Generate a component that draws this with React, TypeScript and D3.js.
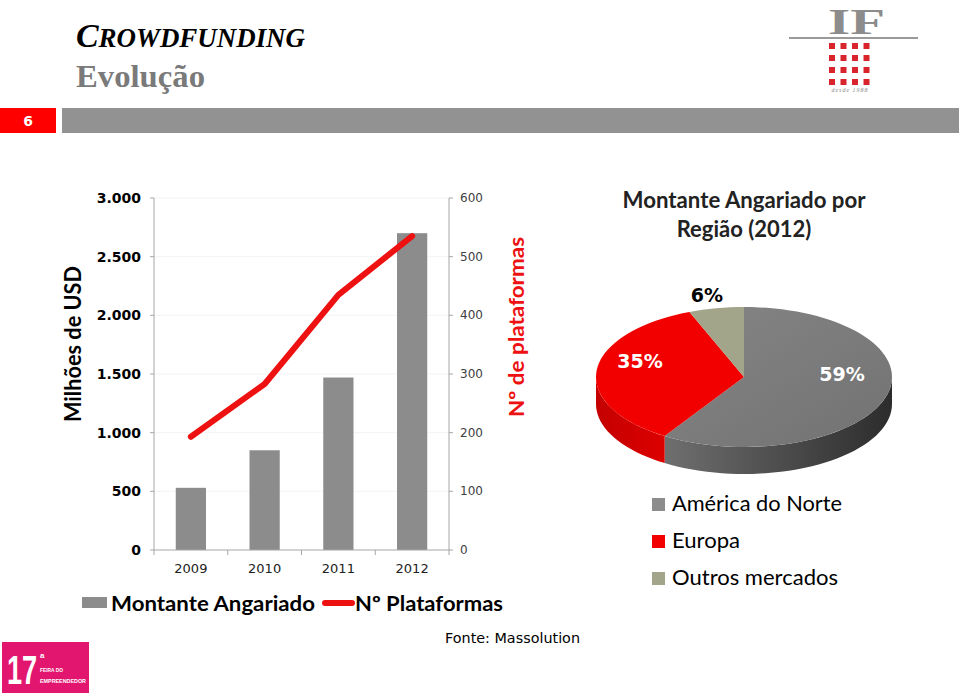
import React from "react";
import * as d3 from "d3";

const years = ["2009", "2010", "2011", "2012"];
const montante = [530, 850, 1470, 2700];
const plataformas = [193, 283, 435, 535];
const leftTicks = [0, 500, 1000, 1500, 2000, 2500, 3000];
const rightTicks = [0, 100, 200, 300, 400, 500, 600];

const regions = ["América do Norte", "Europa", "Outros mercados"];
const regionShare = [59, 35, 6];
const regionColors = ["#7d7d7d", "#f20000", "#a3a58b"];
const legendColors = ["#8c8c8c", "#f20000", "#a3a58b"];
const legendWidths = [170, 68, 166];

const fmt = (v: number) => (v >= 1000 ? d3.format(",")(v).replace(/,/g, ".") : String(v));

export default function App() {
  const W = 959, H = 694;
  // Combo chart
  const plotL = 154, plotR = 449, plotT = 198, plotB = 550;
  const x = d3.scaleBand<string>().domain(years).range([plotL, plotR]);
  const yL = d3.scaleLinear().domain([0, 3000]).range([plotB, plotT]);
  const yR = d3.scaleLinear().domain([0, 600]).range([plotB, plotT]);
  const barW = x.bandwidth() * 0.41;
  const line = d3
    .line<number>()
    .x((_, i) => (x(years[i]) as number) + x.bandwidth() / 2)
    .y((d) => yR(d));

  // Pie 3D
  const cx = 744, cy = 377, rx = 148, ry = 70, depth = 27;
  const pt = (a: number): [number, number] => [cx + rx * Math.sin(a), cy - ry * Math.cos(a)];
  const arcs = d3.pie<number>().sort(null).value((d) => d)(regionShare);
  const sample = (a0: number, a1: number) => {
    const n = Math.max(2, Math.ceil(((a1 - a0) / (Math.PI * 2)) * 120));
    return d3.range(n + 1).map((i) => pt(a0 + ((a1 - a0) * i) / n));
  };
  const pathLine = d3.line();
  const topPath = (a0: number, a1: number) =>
    pathLine([[cx, cy], ...sample(a0, a1)]) + "Z";
  const sidePath = (a0: number, a1: number) => {
    const s = Math.max(a0, Math.PI / 2), e = Math.min(a1, (3 * Math.PI) / 2);
    if (e <= s) return null;
    const top = sample(s, e);
    const bottom = top.map(([px, py]) => [px, py + depth] as [number, number]).reverse();
    return pathLine([...top, ...bottom]) + "Z";
  };
  const sideFills = ["url(#sideGray)", "url(#sideRed)", "#7f8170"];

  const calibri = "Lato, 'Open Sans', sans-serif";
  const gothic = "'DejaVu Sans', sans-serif";

  return (
    <svg width={W} height={H} style={{ position: "absolute", left: 0, top: 0, background: "#fff" }}>
      <defs>
        <linearGradient id="sideGray" x1="0" x2="1" y1="0" y2="0">
          <stop offset="0" stopColor="#6f6f6f" />
          <stop offset="1" stopColor="#2c2c2c" />
        </linearGradient>
        <linearGradient id="sideRed" x1="0" x2="1" y1="0" y2="0">
          <stop offset="0" stopColor="#c40000" />
          <stop offset="1" stopColor="#dc0000" />
        </linearGradient>
        <linearGradient id="topGray" x1="0" x2="1" y1="0" y2="1">
          <stop offset="0" stopColor="#858585" />
          <stop offset="1" stopColor="#727272" />
        </linearGradient>
      </defs>

      {/* Header */}
      <text x={76} y={47} fontFamily="'Liberation Serif', serif" fontWeight="bold" fontStyle="italic" fill="#000"
        textLength={229} lengthAdjust="spacingAndGlyphs">
        <tspan fontSize={34}>C</tspan>
        <tspan fontSize={27}>ROWDFUNDING</tspan>
      </text>
      <text x={76} y={87} fontFamily="'Liberation Serif', serif" fontWeight="bold" fontSize={31} fill="#7a7a7a"
        textLength={129} lengthAdjust="spacingAndGlyphs">Evolução</text>

      {/* IF logo */}
      <text x={828} y={34} fontFamily="'Liberation Serif', serif" fontWeight="bold" fontSize={36} fill="#8c8c8c"
        textLength={57} lengthAdjust="spacingAndGlyphs">IF</text>
      <rect x={789} y={37} width={129} height={2} fill="#9a9a9a" />
      {d3.range(4).map((r) =>
        d3.range(4).map((c) => (
          <rect key={`${r}-${c}`} x={829 + c * 11.5} y={43 + r * 12} width={6} height={6} fill="#d9232d" />
        ))
      )}
      <text x={850} y={92} textAnchor="middle" fontFamily="'Liberation Serif', serif" fontStyle="italic" fontSize={6}
        fill="#888" letterSpacing={1}>desde 1988</text>

      {/* Slide number bar */}
      <rect x={0} y={108} width={56} height={25} fill="#ff0000" />
      <text x={28} y={126} textAnchor="middle" fontFamily={gothic} fontWeight="bold" fontSize={14} fill="#fff">6</text>
      <rect x={62} y={108} width={897} height={25} fill="#929292" />

      {/* Gridlines */}
      {leftTicks.slice(1).map((t) => (
        <line key={t} x1={plotL} x2={plotR} y1={yL(t)} y2={yL(t)} stroke="#f3f3f3" />
      ))}

      {/* Bars */}
      {montante.map((v, i) => (
        <rect key={years[i]} x={(x(years[i]) as number) + (x.bandwidth() - barW) / 2} y={yL(v)} width={barW}
          height={plotB - yL(v)} fill="#8c8c8c" />
      ))}

      {/* Axes */}
      <line x1={plotL} x2={plotL} y1={plotT} y2={plotB} stroke="#a6a6a6" />
      <line x1={plotR} x2={plotR} y1={plotT} y2={plotB} stroke="#a6a6a6" />
      <line x1={plotL} x2={plotR} y1={plotB} y2={plotB} stroke="#a6a6a6" />
      {leftTicks.map((t) => (
        <g key={t}>
          <line x1={plotL - 4} x2={plotL} y1={yL(t)} y2={yL(t)} stroke="#a6a6a6" />
          <text x={141} y={yL(t) + 5} textAnchor="end" fontFamily={gothic} fontWeight="bold" fontSize={14} fill="#000">
            {fmt(t)}
          </text>
        </g>
      ))}
      {rightTicks.map((t) => (
        <g key={t}>
          <line x1={plotR} x2={plotR + 4} y1={yR(t)} y2={yR(t)} stroke="#a6a6a6" />
          <text x={460} y={yR(t) + 4} fontFamily={gothic} fontSize={12} fill="#404040">{t}</text>
        </g>
      ))}
      {[...years.map((yv) => x(yv) as number), plotR].map((bx, i) => (
        <line key={i} x1={bx} x2={bx} y1={plotB} y2={plotB + 5} stroke="#a6a6a6" />
      ))}
      {years.map((yv) => (
        <text key={yv} x={(x(yv) as number) + x.bandwidth() / 2} y={573} textAnchor="middle" fontFamily={gothic}
          fontSize={13} fill="#222">{yv}</text>
      ))}

      {/* Line */}
      <path d={line(plataformas) as string} fill="none" stroke="#ee1111" strokeWidth={6} strokeLinecap="round"
        strokeLinejoin="round" />

      {/* Axis titles */}
      <text transform="translate(81,344) rotate(-90)" textAnchor="middle" fontFamily={calibri} fontWeight="bold"
        fontSize={22} fill="#000" textLength={156} lengthAdjust="spacingAndGlyphs">Milhões de USD</text>
      <text transform="translate(524,327) rotate(-90)" textAnchor="middle" fontFamily={calibri} fontWeight="bold"
        fontSize={21} fill="#ee1111" textLength={180} lengthAdjust="spacingAndGlyphs">Nº de plataformas</text>

      {/* Legend combo */}
      <rect x={82} y={597} width={25} height={11} fill="#8c8c8c" />
      <text x={111} y={611} fontFamily={calibri} fontWeight="bold" fontSize={20} fill="#000"
        textLength={204} lengthAdjust="spacingAndGlyphs">Montante Angariado</text>
      <line x1={325} x2={352} y1={603} y2={603} stroke="#ee1111" strokeWidth={6} strokeLinecap="round" />
      <text x={355} y={611} fontFamily={calibri} fontWeight="bold" fontSize={20} fill="#000"
        textLength={148} lengthAdjust="spacingAndGlyphs">Nº Plataformas</text>

      {/* Pie title */}
      <text x={744} y={208} textAnchor="middle" fontFamily={calibri} fontWeight="bold" fontSize={22} fill="#222"
        textLength={243} lengthAdjust="spacingAndGlyphs">Montante Angariado por</text>
      <text x={744} y={237} textAnchor="middle" fontFamily={calibri} fontWeight="bold" fontSize={22} fill="#222">
        Região (2012)
      </text>

      {/* Pie sides */}
      {arcs.map((a, i) => {
        const p = sidePath(a.startAngle, a.endAngle);
        return p ? <path key={`s${i}`} d={p} fill={sideFills[i]} /> : null;
      })}
      {/* Pie tops */}
      {arcs.map((a, i) => (
        <path key={`t${i}`} d={topPath(a.startAngle, a.endAngle)} fill={i === 0 ? "url(#topGray)" : regionColors[i]} />
      ))}

      {/* Pie labels */}
      <text x={842} y={381} textAnchor="middle" fontFamily={gothic} fontWeight="bold" fontSize={19} fill="#fff">
        {regionShare[0]}%
      </text>
      <text x={640} y={368} textAnchor="middle" fontFamily={gothic} fontWeight="bold" fontSize={19} fill="#fff">
        {regionShare[1]}%
      </text>
      <text x={707} y={302} textAnchor="middle" fontFamily={gothic} fontWeight="bold" fontSize={19} fill="#000">
        {regionShare[2]}%
      </text>

      {/* Pie legend */}
      {regions.map((r, i) => (
        <g key={r}>
          <rect x={652} y={498 + i * 37} width={13} height={13} fill={legendColors[i]} />
          <text x={672} y={511 + i * 37} fontFamily={calibri} fontSize={21} fill="#000"
            textLength={legendWidths[i]} lengthAdjust="spacingAndGlyphs">{r}</text>
        </g>
      ))}

      {/* Source */}
      <text x={445} y={643} fontFamily={gothic} fontSize={14} fill="#000" textLength={135}
        lengthAdjust="spacingAndGlyphs">Fonte: Massolution</text>

      {/* Bottom logo */}
      <rect x={2} y={642} width={87} height={51} fill="#e2156f" />
      <text transform="translate(7,684) scale(0.68,1)" fontFamily="'Liberation Sans', sans-serif" fontWeight="bold"
        fontSize={40} fill="#fff">17</text>
      <text x={40} y={658} fontFamily="'Liberation Sans', sans-serif" fontWeight="bold" fontSize={8} fill="#fff">a</text>
      <text x={40} y={672} fontFamily="'Liberation Sans', sans-serif" fontWeight="bold" fontSize={6} fill="#fff"
        textLength={23} lengthAdjust="spacingAndGlyphs">FEIRA DO</text>
      <text x={40} y={683} fontFamily="'Liberation Sans', sans-serif" fontWeight="bold" fontSize={6} fill="#fff"
        textLength={46} lengthAdjust="spacingAndGlyphs">EMPREENDEDOR</text>
    </svg>
  );
}
